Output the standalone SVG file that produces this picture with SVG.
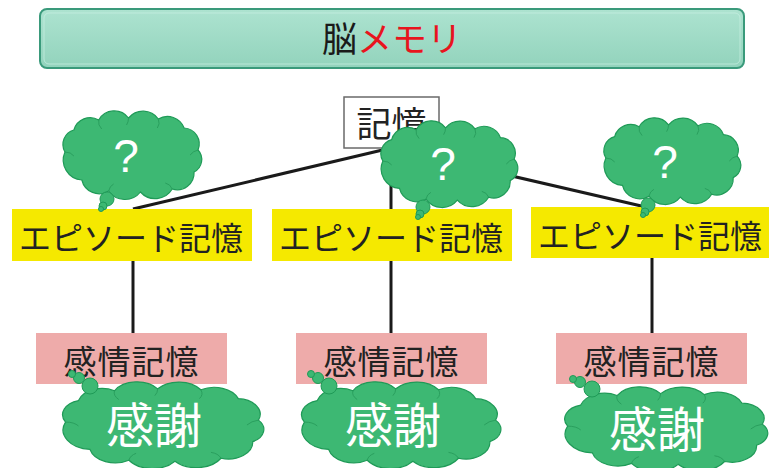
<svg xmlns="http://www.w3.org/2000/svg" xmlns:xlink="http://www.w3.org/1999/xlink" width="771" height="468" viewBox="0 0 771 468">
  <style>
    .jp { font-family: "Liberation Sans", "Noto Sans CJK JP", sans-serif; }
    .dark { fill: #222222; }
    .conn { stroke: #1a1a1a; stroke-width: 3; fill: none; stroke-linecap: butt; }
    .episode { fill: #f5e900; }
    .emotion { fill: #eeabaa; }
    .cloudfill { fill: #3db873; stroke: #1f9a57; stroke-width: 1.2; }
    .cloudline { fill: none; stroke: #2a9f5e; stroke-width: 1; }
    .q { font-family: "Liberation Sans", Arial, sans-serif; font-size: 46px; fill: #ffffff; text-anchor: middle; }
    .thanks { font-size: 48px; fill: #ffffff; text-anchor: middle; }
    .bubble { fill: #3db873; stroke: #1f9a57; stroke-width: 1; }
  </style>
  <defs>
    <linearGradient id="barGrad" x1="0" y1="0" x2="0" y2="1">
      <stop offset="0" stop-color="#ade3d0"/>
      <stop offset="1" stop-color="#92d3bc"/>
    </linearGradient>
    <!-- thought cloud outline, stretched to each placement -->
    <symbol id="cloud" viewBox="0 0 150 90" preserveAspectRatio="none" overflow="visible">
      <path class="cloudfill" vector-effect="non-scaling-stroke" d="M8,42 A15,15 0 0 1 17,20 A17,17 0 0 1 42,10 A18,18 0 0 1 72,8 A19,19 0 0 1 102,9 A18,18 0 0 1 128,18 A16,16 0 0 1 142,40 A14,14 0 0 1 138,62 A17,17 0 0 1 116,79 A20,20 0 0 1 84,82 A20,20 0 0 1 52,81 A18,18 0 0 1 25,70 A20,20 0 0 1 8,42 Z"/>
      <path class="cloudline" vector-effect="non-scaling-stroke" d="M42,10 q-1,5 3,9 M102,9 q2,5 -1,9 M142,40 q-5,1 -8,5 M116,79 q-2,-5 -7,-6 M52,81 q1,-5 5,-7 M8,42 q6,0 9,4 M72,8 q0,4 -2,7"/>
    </symbol>
  </defs>

  <rect width="771" height="468" fill="#ffffff"/>

  <!-- title bar -->
  <g id="title">
    <rect x="40" y="9" width="704" height="59" rx="7" fill="url(#barGrad)" stroke="#3a9a7b" stroke-width="2"/>
    <rect x="44" y="13" width="696" height="51" rx="5" fill="none" stroke="#c9efe2" stroke-width="1" opacity="0.7"/>
    <text class="jp" x="392" y="52" font-size="35" text-anchor="middle"><tspan fill="#1a1a1a">脳</tspan><tspan fill="#e8141e">メモリ</tspan></text>
  </g>

  <!-- connectors -->
  <g id="connectors">
    <line class="conn" x1="391" y1="148" x2="133" y2="209"/>
    <line class="conn" x1="391" y1="148" x2="391" y2="209"/>
    <line class="conn" x1="391" y1="148" x2="650" y2="208"/>
    <line class="conn" x1="133" y1="261" x2="133" y2="333"/>
    <line class="conn" x1="391" y1="261" x2="391" y2="333"/>
    <line class="conn" x1="652" y1="258" x2="652" y2="333"/>
  </g>

  <!-- root node -->
  <g id="memory">
    <rect x="344" y="97" width="95" height="51" fill="#ffffff" stroke="#6a6a6a" stroke-width="1.5"/>
    <text class="jp dark" x="391.5" y="137" font-size="35" text-anchor="middle">記憶</text>
  </g>

  <!-- episodic memory nodes -->
  <g id="episode1">
    <rect class="episode" x="12" y="209" width="240" height="52"/>
    <text class="jp dark" x="131" y="250" font-size="32" text-anchor="middle">エピソード記憶</text>
  </g>
  <g id="episode2">
    <rect class="episode" x="272" y="209" width="240" height="52"/>
    <text class="jp dark" x="391" y="250" font-size="32" text-anchor="middle">エピソード記憶</text>
  </g>
  <g id="episode3">
    <rect class="episode" x="531" y="207" width="238" height="51"/>
    <text class="jp dark" x="650" y="248" font-size="32" text-anchor="middle">エピソード記憶</text>
  </g>

  <!-- emotional memory nodes -->
  <g id="emotion1">
    <rect class="emotion" x="36" y="333" width="191" height="51"/>
    <text class="jp dark" x="131.5" y="374" font-size="33" letter-spacing="1" text-anchor="middle">感情記憶</text>
  </g>
  <g id="emotion2">
    <rect class="emotion" x="296" y="333" width="191" height="51"/>
    <text class="jp dark" x="391.5" y="374" font-size="33" letter-spacing="1" text-anchor="middle">感情記憶</text>
  </g>
  <g id="emotion3">
    <rect class="emotion" x="556" y="333" width="191" height="51"/>
    <text class="jp dark" x="651.5" y="374" font-size="33" letter-spacing="1" text-anchor="middle">感情記憶</text>
  </g>

  <!-- question clouds -->
  <g id="question1">
    <use xlink:href="#cloud" href="#cloud" x="57" y="110" width="149" height="90"/>
    <circle class="bubble" cx="107" cy="199" r="7"/>
    <circle class="bubble" cx="103" cy="206" r="4"/>
    <circle class="bubble" cx="101" cy="209" r="2.5"/>
    <text class="q" x="126" y="172">?</text>
  </g>
  <g id="question2">
    <use xlink:href="#cloud" href="#cloud" x="375" y="120" width="147" height="88"/>
    <circle class="bubble" cx="423" cy="207" r="7"/>
    <circle class="bubble" cx="420" cy="214" r="4"/>
    <circle class="bubble" cx="418" cy="217" r="2.5"/>
    <text class="q" x="443" y="180">?</text>
  </g>
  <g id="question3">
    <use xlink:href="#cloud" href="#cloud" x="598" y="117" width="147" height="88"/>
    <circle class="bubble" cx="648" cy="205" r="7"/>
    <circle class="bubble" cx="645" cy="212" r="4"/>
    <circle class="bubble" cx="643" cy="215" r="2.5"/>
    <text class="q" x="665" y="178">?</text>
  </g>

  <!-- gratitude clouds -->
  <g id="thanks1">
    <use xlink:href="#cloud" href="#cloud" x="54" y="381" width="216" height="88"/>
    <circle class="bubble" cx="90" cy="386" r="8"/>
    <circle class="bubble" cx="79" cy="378" r="5.5"/>
    <circle class="bubble" cx="72" cy="374" r="3.5"/>
    <text class="jp thanks" x="154" y="443">感謝</text>
  </g>
  <g id="thanks2">
    <use xlink:href="#cloud" href="#cloud" x="293" y="381" width="214" height="88"/>
    <circle class="bubble" cx="329" cy="386" r="8"/>
    <circle class="bubble" cx="318" cy="378" r="5.5"/>
    <circle class="bubble" cx="311" cy="374" r="3.5"/>
    <text class="jp thanks" x="393" y="443">感謝</text>
  </g>
  <g id="thanks3">
    <use xlink:href="#cloud" href="#cloud" x="556" y="386" width="218" height="86"/>
    <circle class="bubble" cx="592" cy="389" r="8"/>
    <circle class="bubble" cx="580" cy="382" r="5.5"/>
    <circle class="bubble" cx="573" cy="379" r="3.5"/>
    <text class="jp thanks" x="657" y="447">感謝</text>
  </g>
</svg>
